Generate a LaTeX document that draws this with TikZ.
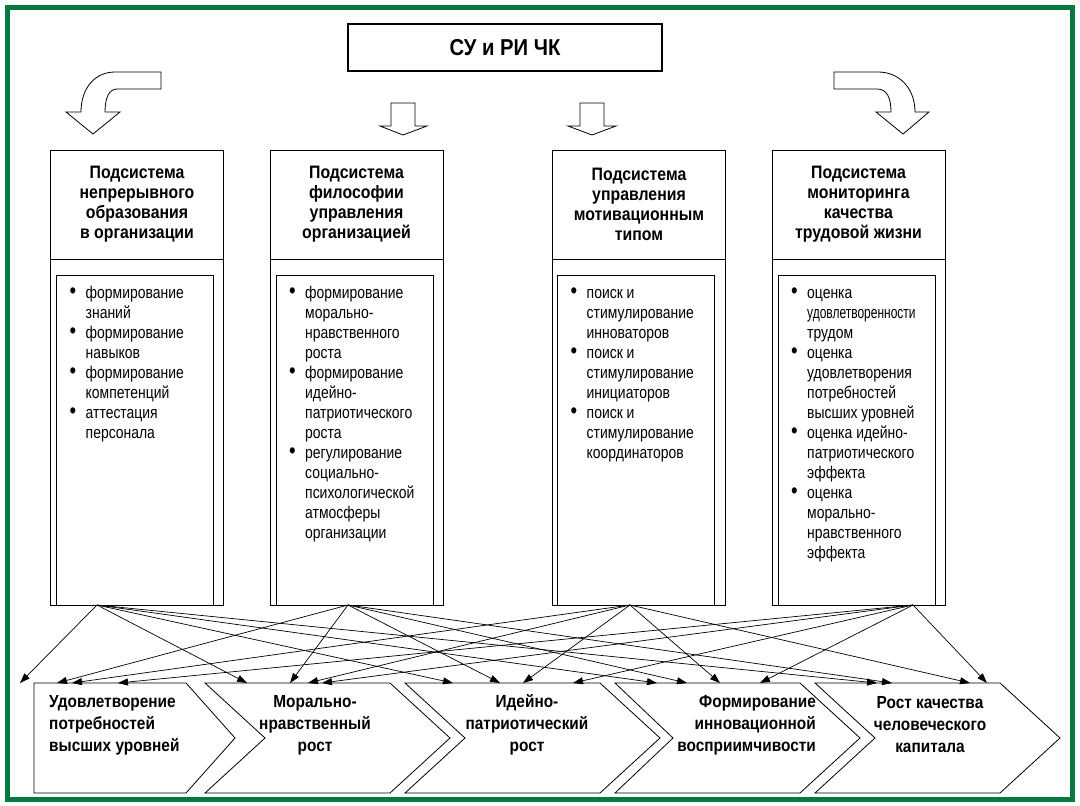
\documentclass[tikz,border=0pt]{standalone}
\usepackage{fontspec}
\setmainfont{Liberation Sans}
\newfontfamily\uzkij[FakeStretch=0.82]{Liberation Sans}
\newfontfamily\uzkijb[FakeStretch=0.88]{Liberation Sans}
\usetikzlibrary{positioning,arrows.meta}
\definecolor{ramka}{RGB}{0,122,61}
\newcommand{\tochka}{\raisebox{-0.6pt}{\scalebox{1.35}{\textbullet}}}
\tikzset{
  titel/.style={draw, line width=2.6pt, minimum width=314pt, minimum height=47pt, inner sep=0pt, font=\uzkijb\bfseries\fontsize{23}{26}\selectfont},
  kopf/.style={draw, line width=0.9pt, minimum width=173pt, minimum height=109pt, inner sep=0pt, outer sep=0pt, align=center, font=\uzkijb\bfseries\fontsize{18}{20}\selectfont},
  korpus/.style={draw, line width=0.9pt, minimum width=173pt, minimum height=346pt, inner sep=0pt, outer sep=0pt},
  vnutri/.style={draw, line width=0.9pt, minimum width=157pt, minimum height=330pt, inner sep=0pt, outer sep=0pt, anchor=south west},
  spisok/.style={anchor=north west, inner sep=0pt, font=\uzkij\fontsize{17}{20}\selectfont},
  shevron/.style={draw, fill=white, line width=0.8pt, line join=miter},
  shtext/.style={inner sep=0pt, font=\uzkijb\bfseries\fontsize{17.5}{22}\selectfont},
  blok/.style={draw, fill=white, line width=0.8pt, line join=miter},
  strelka/.style={-{Triangle[length=10pt,width=7pt]}, line width=0.7pt}
}
\begin{document}
\begin{tikzpicture}[x=1pt, y=-1pt]
  \fill[white] (0,0) rectangle (1080,806);
  \useasboundingbox (0,0) rectangle (1080,806);
  \draw[ramka, line width=5.5pt] (7.5,7.5) rectangle (1072.5,799.5);

  \node[titel] (SU) at (505,47.5) {СУ и РИ ЧК};

  % curved and straight block arrows
  \draw[blok] (161,72) -- (115,72) .. controls (95,72) and (81,88) .. (81,112) -- (66,112) -- (93,134) -- (120,112) -- (105,112) .. controls (105,98) and (109,89) .. (117,89) -- (161,89) -- cycle;
  \draw[blok] (834,72) -- (878,72) .. controls (899,72) and (915,88) .. (915,112) -- (929,112) -- (903,134) -- (876,112) -- (891,112) .. controls (891,98) and (887,89) .. (877,89) -- (834,89) -- cycle;
  \draw[blok] (391,103) -- (415,103) -- (415,126) -- (427,126) -- (403,135) -- (380,126) -- (391,126) -- cycle;
  \draw[blok] (580,103) -- (604,103) -- (604,126) -- (616,126) -- (592,135) -- (568,126) -- (580,126) -- cycle;

  % subsystems
  \node[kopf] (K1) at (137,204.5) {Подсистема\\непрерывного\\образования\\в организации};
  \node[korpus, below=0pt of K1] (B1) {};
  \node[vnutri] (V1) at ([xshift=6pt]B1.south west) {};
  \node[spisok] (S1) at ([xshift=13pt,yshift=-9pt]V1.north west) {\begin{tabular}{@{}p{16pt}@{}l@{}}
    \tochka & формирование\\ & знаний\\
    \tochka & формирование\\ & навыков\\
    \tochka & формирование\\ & компетенций\\
    \tochka & аттестация\\ & персонала
  \end{tabular}};

  \node[kopf] (K2) at (356.5,204.5) {Подсистема\\философии\\управления\\организацией};
  \node[korpus, below=0pt of K2] (B2) {};
  \node[vnutri] (V2) at ([xshift=6pt]B2.south west) {};
  \node[spisok] (S2) at ([xshift=13pt,yshift=-9pt]V2.north west) {\begin{tabular}{@{}p{16pt}@{}l@{}}
    \tochka & формирование\\ & морально-\\ & нравственного\\ & роста\\
    \tochka & формирование\\ & идейно-\\ & патриотического\\ & роста\\
    \tochka & регулирование\\ & социально-\\ & психологической\\ & атмосферы\\ & организации
  \end{tabular}};

  \node[kopf] (K3) at (639,204.5) {Подсистема\\управления\\мотивационным\\типом};
  \node[korpus, below=0pt of K3] (B3) {};
  \node[vnutri] (V3) at ([xshift=5pt]B3.south west) {};
  \node[spisok] (S3) at ([xshift=13pt,yshift=-9pt]V3.north west) {\begin{tabular}{@{}p{16pt}@{}l@{}}
    \tochka & поиск и\\ & стимулирование\\ & инноваторов\\
    \tochka & поиск и\\ & стимулирование\\ & инициаторов\\
    \tochka & поиск и\\ & стимулирование\\ & координаторов
  \end{tabular}};

  \node[kopf] (K4) at (858.5,204.5) {Подсистема\\мониторинга\\качества\\трудовой жизни};
  \node[korpus, below=0pt of K4] (B4) {};
  \node[vnutri] (V4) at ([xshift=6pt]B4.south west) {};
  \node[spisok] (S4) at ([xshift=13pt,yshift=-9pt]V4.north west) {\begin{tabular}{@{}p{16pt}@{}l@{}}
    \tochka & оценка\\ & \scalebox{0.86}[1]{удовлетворенности}\\ & трудом\\
    \tochka & оценка\\ & удовлетворения\\ & потребностей\\ & высших уровней\\
    \tochka & оценка идейно-\\ & патриотического\\ & эффекта\\
    \tochka & оценка\\ & морально-\\ & нравственного\\ & эффекта
  \end{tabular}};

  \coordinate (o1) at ([xshift=-40pt]B1.south);
  \coordinate (o2) at ([xshift=-8.5pt]B2.south);
  \coordinate (o3) at ([xshift=-9pt]B3.south);
  \coordinate (o4) at ([xshift=54.5pt]B4.south);

  % results
  \draw[shevron] (34,683) -- (186,683) -- (235,738) -- (186,793) -- (34,793) -- cycle;
  \draw[shevron] (205,683) -- (390,683) -- (450,738) -- (390,793) -- (205,793) -- (265,738) -- cycle;
  \draw[shevron] (405,683) -- (600,683) -- (660,738) -- (600,793) -- (405,793) -- (465,738) -- cycle;
  \draw[shevron] (615,683) -- (800,683) -- (860,738) -- (800,793) -- (615,793) -- (673,738) -- cycle;
  \draw[shevron] (815,683) -- (1000,683) -- (1060,738) -- (1000,793) -- (815,793) -- (875,738) -- cycle;
  \coordinate (R1) at (34,683);
  \coordinate (R2) at (205,683);
  \coordinate (R3) at (405,683);
  \coordinate (R4) at (615,683);
  \coordinate (R5) at (815,683);

  \node[shtext, anchor=west, align=left] (T1) at (49,725) {Удовлетворение\\потребностей\\высших уровней};
  \node[shtext, align=center] (T2) at (315,725) {Морально-\\нравственный\\рост};
  \node[shtext, align=center] (T3) at (527,725) {Идейно-\\патриотический\\рост};
  \node[shtext, anchor=east, align=right] (T4) at (816,725) {Формирование\\инновационной\\восприимчивости};
  \node[shtext, align=center] (T5) at (930,725) {Рост качества\\человеческого\\капитала};

  \draw[strelka] (o1) -- (20,0 |- R1);
  \draw[strelka] (o1) -- (247,0 |- R2);
  \draw[strelka] (o1) -- (453,0 |- R3);
  \draw[strelka] (o1) -- (657,0 |- R4);
  \draw[strelka] (o1) -- (877,0 |- R5);
  \draw[strelka] (o2) -- (57,0 |- R1);
  \draw[strelka] (o2) -- (290,0 |- R2);
  \draw[strelka] (o2) -- (500,0 |- R3);
  \draw[strelka] (o2) -- (687,0 |- R4);
  \draw[strelka] (o2) -- (892,0 |- R5);
  \draw[strelka] (o3) -- (72,0 |- R1);
  \draw[strelka] (o3) -- (308,0 |- R2);
  \draw[strelka] (o3) -- (523,0 |- R3);
  \draw[strelka] (o3) -- (720,0 |- R4);
  \draw[strelka] (o3) -- (970,0 |- R5);
  \draw[strelka] (o4) -- (118,0 |- R1);
  \draw[strelka] (o4) -- (322,0 |- R2);
  \draw[strelka] (o4) -- (573,0 |- R3);
  \draw[strelka] (o4) -- (760,0 |- R4);
  \draw[strelka] (o4) -- (987,0 |- R5);
\end{tikzpicture}
\end{document}
